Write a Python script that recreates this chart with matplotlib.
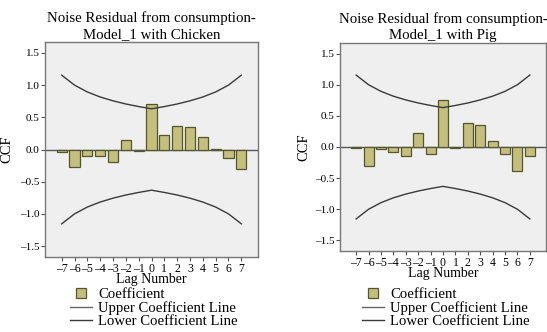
import matplotlib
matplotlib.use("Agg")
import matplotlib.pyplot as plt
from matplotlib.lines import Line2D

plt.rcParams['font.family'] = ['Liberation Serif', 'DejaVu Serif']

lags = [-7, -6, -5, -4, -3, -2, -1, 0, 1, 2, 3, 4, 5, 6, 7]
chicken_ccf = [-0.04, -0.27, -0.10, -0.10, -0.19, 0.14, -0.03, 0.70, 0.22, 0.37, 0.35, 0.20, 0.01, -0.13, -0.31]
pig_ccf = [-0.01, -0.30, -0.03, -0.08, -0.14, 0.23, -0.12, 0.75, -0.02, 0.39, 0.36, 0.09, -0.11, -0.38, -0.15]
upper_line = [1.155, 1.0, 0.894, 0.816, 0.756, 0.707, 0.667, 0.632, 0.667, 0.707, 0.756, 0.816, 0.894, 1.0, 1.155]
lower_line = [-v for v in upper_line]
titles = ["Noise Residual from consumption-\nModel_1 with Chicken",
          "Noise Residual from consumption-\nModel_1 with Pig"]
yticks = [-1.5, -1.0, -0.5, 0.0, 0.5, 1.0, 1.5]
legend_labels = ["Coefficient", "Upper Coefficient Line", "Lower Coefficient Line"]

W, H = 547, 332
fig = plt.figure(figsize=(W / 100, H / 100), dpi=100)
fig.patch.set_facecolor('white')

bar_fc = '#c4bf7c'
bar_ec = '#55552e'
line_c = '#3a3a3a'

axes_px = [(45, 42, 258, 257), (340, 43, 546, 251)]
ylab_x = [13, 310]
leg_pos = [(70, 288), (362, 288)]

for i, (vals, title) in enumerate(zip([chicken_ccf, pig_ccf], titles)):
    l, t, r, b = axes_px[i]
    ax = fig.add_axes([l / W, 1 - b / H, (r - l) / W, (b - t) / H])
    ax.set_facecolor('#efefef')
    ax.bar(lags, vals, width=0.8, color=bar_fc, edgecolor=bar_ec, linewidth=0.9, zorder=3)
    ax.axhline(0, color='#555555', linewidth=1.0, zorder=2)
    ax.plot(lags, upper_line, color=line_c, linewidth=1.0, zorder=4)
    ax.plot(lags, lower_line, color=line_c, linewidth=1.0, zorder=4)
    ax.set_xlim(-8.3, 8.3)
    ax.set_ylim(-1.67, 1.67)
    ax.set_yticks(yticks)
    ax.set_yticklabels([f"{v:.1f}".replace('-', '\u2013') for v in yticks], fontsize=8)
    ax.set_xticks(lags)
    ax.set_xticklabels([str(v).replace('-', '\u2013') for v in lags], fontsize=8.5)
    ax.tick_params(axis='both', length=3, width=0.8, color='#555555', pad=1)
    for s in ax.spines.values():
        s.set_color('#777777')
        s.set_linewidth(1.0)
    ax.set_title(title, fontsize=10.7, pad=3, linespacing=1.25)
    ax.set_xlabel("Lag Number", fontsize=10, labelpad=-1)
    ax.set_ylabel("CCF", fontsize=10.5, labelpad=2)
    ax.yaxis.set_label_coords((ylab_x[i] - l) / (r - l), 0.5)

    handles = [
        Line2D([], [], linestyle='none', marker='s', markersize=7,
               markerfacecolor=bar_fc, markeredgecolor=bar_ec, markeredgewidth=0.9),
        Line2D([], [], color='#666666', linewidth=1.0),
        Line2D([], [], color=line_c, linewidth=1.0),
    ]
    lx, ly = leg_pos[i]
    ax.legend(handles, legend_labels, loc='upper left',
              bbox_to_anchor=(lx / W, 1 - ly / H), bbox_transform=fig.transFigure,
              frameon=False, fontsize=10.6, handlelength=1.5, handletextpad=0.4,
              labelspacing=0.0, borderpad=0, borderaxespad=0)

fig.savefig("out.png", dpi=100)
